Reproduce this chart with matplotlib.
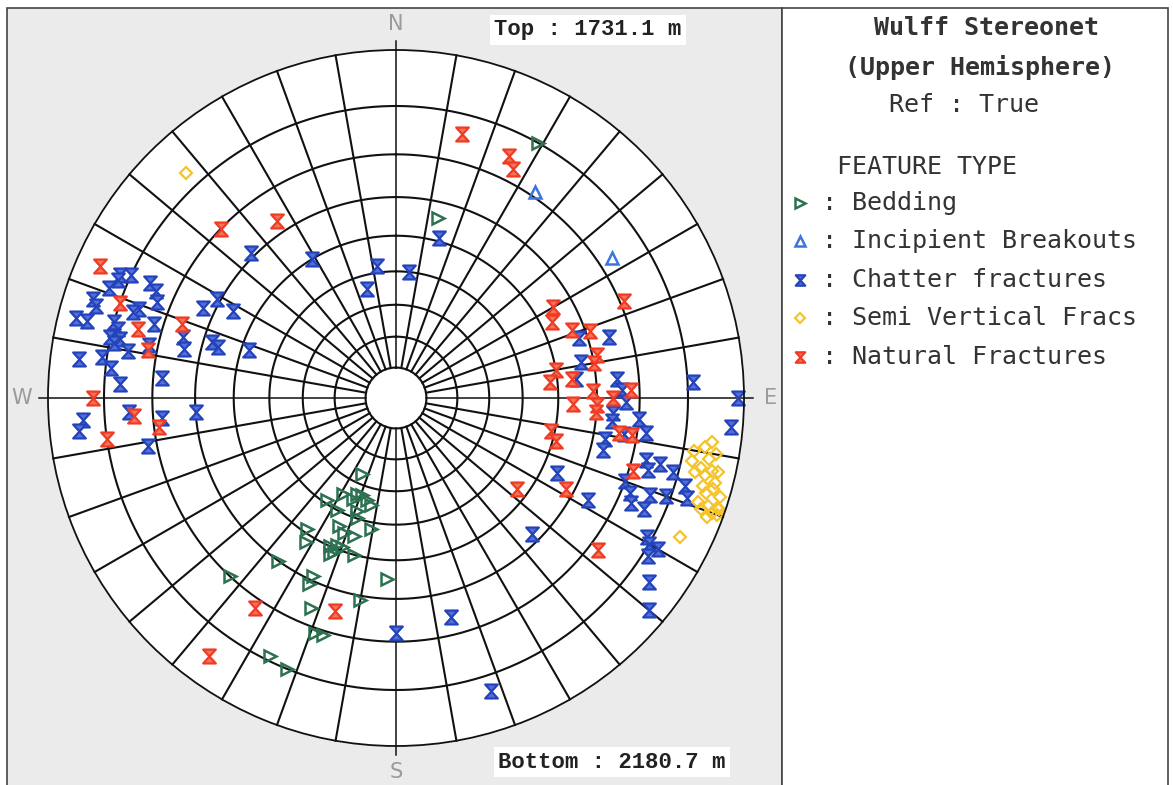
import numpy as np
import matplotlib.pyplot as plt
from matplotlib.path import Path
from matplotlib.patches import Rectangle

# poles: azimuth (deg clockwise from N) and dip (deg)
bed_az = [29, 13, 204, 209, 202, 199, 203, 196, 214, 193, 208, 199, 198, 214, 204, 201, 191, 197,
          212, 204, 202, 200, 203, 202, 195, 216, 223, 205, 205, 183, 202, 190, 199, 197, 206, 202]
bed_dip = [80, 56, 27, 35, 33, 33, 35, 34, 39, 35, 40, 38, 40, 49, 44, 45, 42, 45,
           52, 50, 49, 49, 52, 51, 50, 60, 70, 59, 61, 55, 66, 61, 71, 71, 79, 80]

inc_az = [34, 57]
inc_dip = [71, 73]

chat_az = [294, 295, 293, 295, 294, 291, 288, 287, 292, 289, 288, 284, 284, 285, 287, 284, 282, 282,
           281, 282, 280, 277, 278, 276, 273, 275, 286, 283, 287, 286, 288, 299, 295, 298, 315, 267,
           266, 265, 266, 264, 259, 329, 352, 345, 15, 6, 74, 72, 79, 84, 85, 88, 91, 94, 96, 95, 87,
           90, 95, 99, 98, 101, 104, 115, 118, 104, 104, 105, 106, 110, 112, 114, 111, 114, 110, 107,
           109, 119, 120, 122, 120, 126, 130, 135, 166, 180, 162]
chat_dip = [82, 80, 82, 76, 74, 83, 85, 84, 73, 76, 77, 87, 85, 80, 72, 79, 80, 78,
            79, 72, 76, 85, 81, 79, 77, 68, 65, 64, 58, 56, 48, 61, 63, 56, 61, 75,
            60, 68, 84, 85, 72, 50, 42, 36, 51, 40, 65, 58, 57, 55, 65, 66, 67, 64, 64, 70, 81,
            89, 88, 67, 72, 63, 63, 54, 64, 73, 76, 79, 74, 70, 72, 73, 76, 76, 79, 82,
            83, 79, 80, 81, 82, 84, 87, 58, 66, 68, 83]

semi_az = [317, 98, 99, 100, 102, 101, 100, 103, 103, 103, 104, 105, 106, 106, 107, 109, 109,
           109, 110, 110, 109, 111, 110, 116, 104, 107]
semi_dip = [83, 85, 84, 82, 82, 85, 86, 84, 86, 87, 85, 87, 85, 87, 86, 85, 87,
            88.5, 86, 88, 89, 87.5, 89, 84.5, 83, 88.5]

nat_az = [294, 326, 314, 289, 285, 289, 281, 270, 266, 263, 262, 214, 196, 216, 14, 25, 27, 67,
          60, 64, 69, 71, 78, 80, 80, 84, 84, 88, 88, 90, 92, 92, 94, 102, 105, 99, 99, 107, 118,
          127, 127]
nat_dip = [86, 63, 70, 80, 75, 66, 72, 82, 74, 69, 80, 72, 65, 85, 76, 75, 73, 71,
           55, 53, 57, 61, 61, 60, 50, 48, 54, 59, 68, 64, 54, 60, 60, 49, 51, 66, 69, 71, 58,
           47, 72]

legend_labels = ['Bedding', 'Incipient Breakouts', 'Chatter fractures',
                 'Semi Vertical Fracs', 'Natural Fractures']

W, H = 1173, 785
GREEN = '#2c7150'
LBLUE = '#3b74dc'
BLUE = '#2343bb'
YELLOW = '#f4c42a'
RED = '#ef3b24'


def hourglass():
    verts = [(-1, 1.1), (1, 1.1), (0, 0), (-1, 1.1),
             (-1, -1.1), (1, -1.1), (0, 0), (-1, -1.1)]
    codes = [Path.MOVETO, Path.LINETO, Path.LINETO, Path.CLOSEPOLY] * 2
    return Path(verts, codes)


HG = hourglass()


def wulff(dip):
    # equal-angle radius for a given dip, unit primitive circle
    return np.tan(np.radians(np.asarray(dip, dtype=float)) / 2)


styles = [
    dict(marker='>', mfc='none', mec=GREEN, mew=1.8, ms=9),
    dict(marker='^', mfc='none', mec=LBLUE, mew=1.8, ms=9),
    dict(marker=HG, mfc='#5470d8', mec=BLUE, mew=1.6, ms=10),
    dict(marker='D', mfc='none', mec=YELLOW, mew=1.6, ms=6.5),
    dict(marker=HG, mfc='#f5735a', mec=RED, mew=1.6, ms=10),
]

fig = plt.figure(figsize=(W / 100, H / 100), dpi=100)
fig.patch.set_facecolor('white')

# page layer in pixel units
bg = fig.add_axes([0, 0, 1, 1], zorder=0)
bg.set_xlim(0, W)
bg.set_ylim(H, 0)
bg.axis('off')
bg.add_patch(Rectangle((7, 8), 775, 800, facecolor='#ebebeb', edgecolor='#444', lw=1.2))
bg.add_patch(Rectangle((782, 8), 386, 800, facecolor='white', edgecolor='#444', lw=1.2))

# stereonet
cx, cy, R = 396, 398, 348
ax = fig.add_axes([(cx - R) / W, 1 - (cy + R) / H, 2 * R / W, 2 * R / H],
                  projection='polar', zorder=1)
ax.set_theta_zero_location('N')
ax.set_theta_direction(-1)
ax.set_ylim(0, 1)
ax.set_xticks([])
ax.set_yticks([])
ax.grid(False)
ax.set_facecolor('white')
ax.spines['polar'].set_linewidth(1.3)
ax.spines['polar'].set_color('#111')

th = np.linspace(0, 2 * np.pi, 400)
for d in range(10, 90, 10):
    ax.plot(th, np.full_like(th, wulff(d)), color='#111', lw=1.5)
r0 = wulff(10)
for a in range(0, 360, 10):
    r1 = 1.025 if a % 90 == 0 else 1
    ax.plot([np.radians(a)] * 2, [r0, r1], color='#111', lw=1.5 if a % 90 else 1.1,
            clip_on=False)

for lab, a in zip('NESW', (0, 90, 180, 270)):
    ax.text(np.radians(a), 1.075, lab, ha='center', va='center', color='#9a9a9a',
            fontsize=15, clip_on=False)

data = [(bed_az, bed_dip), (inc_az, inc_dip), (chat_az, chat_dip),
        (semi_az, semi_dip), (nat_az, nat_dip)]
for (az, dp), st in zip(data, styles):
    ax.plot(np.radians(az), wulff(dp), ls='none', clip_on=False, **st)

# depth interval
mono_b = dict(family='Liberation Mono', weight='bold', fontsize=16, color='#222')
bg.text(588, 30, 'Top : 1731.1 m', ha='center', va='center',
        bbox=dict(facecolor='white', edgecolor='none', pad=3), **mono_b)
bg.text(612, 762, 'Bottom : 2180.7 m', ha='center', va='center',
        bbox=dict(facecolor='white', edgecolor='none', pad=3), **mono_b)

# title block and legend
head = dict(family='DejaVu Sans Mono', weight='bold', fontsize=18, color='#333', ha='center', va='center')
body = dict(family='DejaVu Sans Mono', fontsize=18, color='#333', va='center')
bg.text(987, 28, 'Wulff Stereonet', **head)
bg.text(980, 68, '(Upper Hemisphere)', **head)
bg.text(964, 105, 'Ref : True', ha='center', **body)
bg.text(927, 167, 'FEATURE TYPE', ha='center', **body)

rows = [203, 241, 280, 318, 357]
for y, lab, st in zip(rows, legend_labels, styles):
    s = dict(st)
    s['ms'] = s['ms'] * 0.75
    bg.plot([800], [y], ls='none', **s)
    bg.text(822, y, ': ' + lab, ha='left', **body)

fig.savefig('out.png', dpi=100, facecolor=fig.get_facecolor())
